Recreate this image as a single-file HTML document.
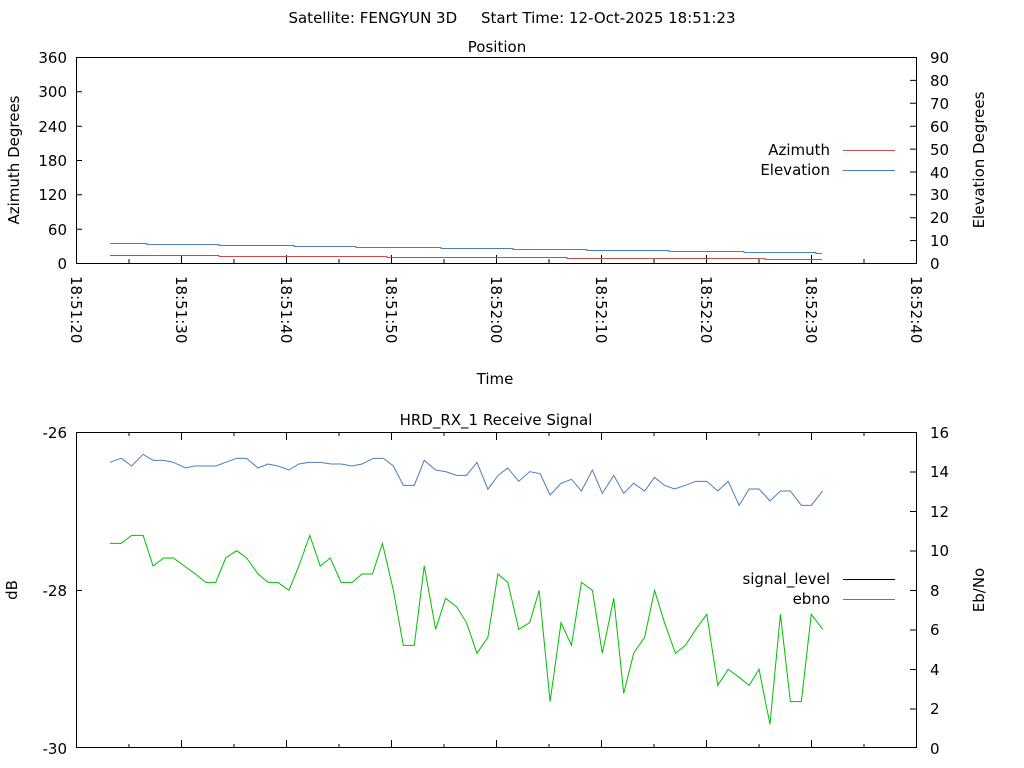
<!DOCTYPE html>
<html><head><meta charset="utf-8"><style>
html,body{margin:0;padding:0;background:#fff;}
svg{display:block;font-family:"DejaVu Sans","Liberation Sans",sans-serif;font-size:15px;}
</style></head><body>
<svg width="1024" height="768" viewBox="0 0 1024 768" xmlns="http://www.w3.org/2000/svg">
<rect width="1024" height="768" fill="#fff"/>
<text x="512" y="23" text-anchor="middle" style="white-space:pre">Satellite: FENGYUN 3D     Start Time: 12-Oct-2025 18:51:23</text>
<text x="497" y="52" text-anchor="middle">Position</text>
<rect x="76.5" y="57.5" width="840" height="206" fill="none" stroke="#000" stroke-width="1"/>
<g stroke="#000" stroke-width="1">
<path d="M76 57.5h6M76 91.8h6M76 126.2h6M76 160.5h6M76 194.8h6M76 229.2h6M916 57.5h-6M916 80.4h-6M916 103.3h-6M916 126.2h-6M916 149.1h-6M916 172h-6M916 194.8h-6M916 217.7h-6M916 240.6h-6"/>
<path d="M181.5 263v-8M286.5 263v-8M391.5 263v-8M496.5 263v-8M601.5 263v-8M706.5 263v-8M811.5 263v-8M129 263v-4M234 263v-4M339 263v-4M444 263v-4M549 263v-4M654 263v-4M759 263v-4M864 263v-4"/>
</g>
<g text-anchor="end">
<text x="67" y="63">360</text><text x="67" y="97">300</text><text x="67" y="132">240</text><text x="67" y="166">180</text><text x="67" y="200">120</text><text x="67" y="235">60</text><text x="67" y="269">0</text>
</g>
<g>
<text x="930" y="63">90</text><text x="930" y="86">80</text><text x="930" y="109">70</text><text x="930" y="132">60</text><text x="930" y="155">50</text><text x="930" y="178">40</text><text x="930" y="200">30</text><text x="930" y="223">20</text><text x="930" y="246">10</text><text x="930" y="269">0</text>
</g>
<text transform="translate(19,160) rotate(-90)" text-anchor="middle">Azimuth Degrees</text>
<text transform="translate(984,160) rotate(-90)" text-anchor="middle">Elevation Degrees</text>
<g>
<text transform="translate(71,276) rotate(90)">18:51:20</text>
<text transform="translate(176,276) rotate(90)">18:51:30</text>
<text transform="translate(281,276) rotate(90)">18:51:40</text>
<text transform="translate(386,276) rotate(90)">18:51:50</text>
<text transform="translate(491,276) rotate(90)">18:52:00</text>
<text transform="translate(596,276) rotate(90)">18:52:10</text>
<text transform="translate(701,276) rotate(90)">18:52:20</text>
<text transform="translate(806,276) rotate(90)">18:52:30</text>
<text transform="translate(911,276) rotate(90)">18:52:40</text>
</g>
<text x="495" y="384" text-anchor="middle">Time</text>
<text x="830" y="155" text-anchor="end">Azimuth</text>
<text x="830" y="175" text-anchor="end">Elevation</text>
<path d="M843 150.5h52" stroke="#c0504d"/>
<path d="M843 170.5h52" stroke="#4a7ebb"/>
<g fill="none" stroke-width="1">
<path stroke="#4a7ebb" d="M110 243.5H147V244.5H219V245.5H294V246.5H356V247.5H441V248.5H513V249.5H587V250.5H669V251.5H744V252.5H816V253.5H822"/>
<path stroke="#c0504d" d="M110 255.5H219V256.5H387V257.5H567V258.5H765V259.5H822"/>
</g>
<text x="496" y="425" text-anchor="middle">HRD_RX_1 Receive Signal</text>
<rect x="76.5" y="432.5" width="840" height="315" fill="none" stroke="#000"/>
<g stroke="#000" stroke-width="1">
<path d="M76 590.5h6M916 472h-6M916 511.5h-6M916 551h-6M916 590.5h-6M916 630h-6M916 669.5h-6M916 709h-6"/>
<path d="M181.5 748v-8M286.5 748v-8M391.5 748v-8M496.5 748v-8M601.5 748v-8M706.5 748v-8M811.5 748v-8M129 748v-4M234 748v-4M339 748v-4M444 748v-4M549 748v-4M654 748v-4M759 748v-4M864 748v-4"/>
<path d="M181.5 432v8M286.5 432v8M391.5 432v8M496.5 432v8M601.5 432v8M706.5 432v8M811.5 432v8M129 432v4M234 432v4M339 432v4M444 432v4M549 432v4M654 432v4M759 432v4M864 432v4"/>
</g>
<g text-anchor="end"><text x="67" y="438">-26</text><text x="67" y="596">-28</text><text x="67" y="754">-30</text></g>
<g>
<text x="930" y="438">16</text><text x="930" y="477">14</text><text x="930" y="517">12</text><text x="930" y="556">10</text><text x="930" y="596">8</text><text x="930" y="635">6</text><text x="930" y="675">4</text><text x="930" y="714">2</text><text x="930" y="754">0</text>
</g>
<text transform="translate(17,590) rotate(-90)" text-anchor="middle">dB</text>
<text transform="translate(984,590) rotate(-90)" text-anchor="middle">Eb/No</text>
<text x="830" y="584" text-anchor="end">signal_level</text>
<text x="830" y="604" text-anchor="end">ebno</text>
<path d="M843 579.5h52" stroke="#000"/>
<path d="M843 599.5h52" stroke="#4a7ebb"/>
<g transform="translate(70,430) scale(0.4975,0.33333)" fill="none">
<polyline vector-effect="non-scaling-stroke" stroke="#4a7ebb" stroke-width="1" points="80,97 103,85 124,108 147,73 167,91 188,91 208,97 232,114 250,108 293,108 313,97 335,85 355,85 378,114 398,102 418,108 440,120 460,102 480,97 503,97 525,102 545,102 567,108 587,102 610,85 630,85 650,108 670,166 692,166 712,91 735,120 755,125 777,136 797,136 818,97 840,178 860,137 880,114 902,154 924,125 945,131 965,195 987,160 1008,148 1028,183 1050,120 1070,190 1093,136 1113,190 1133,160 1155,183 1175,142 1195,166 1215,177 1237,166 1258,154 1280,154 1302,183 1323,154 1345,226 1365,177 1385,177 1407,213 1428,183 1448,183 1470,226 1490,226 1513,183"/>
<polyline vector-effect="non-scaling-stroke" stroke="#00c000" stroke-width="1" points="80,340 103,340 124,316 147,316 167,408 188,384 208,384 230,408 252,432 273,457 293,457 313,384 335,362 355,384 378,432 398,457 418,457 440,481 460,408 482,316 503,408 523,384 545,457 567,457 587,432 608,432 628,340 650,481 670,646 692,646 712,408 735,598 755,505 777,530 797,578 818,670 840,622 860,432 880,457 902,598 924,578 943,481 965,815 987,578 1008,646 1028,457 1050,481 1070,670 1093,505 1113,790 1133,670 1155,622 1175,481 1195,578 1217,670 1237,646 1258,598 1280,553 1302,766 1323,718 1345,742 1365,766 1385,718 1407,883 1428,553 1448,815 1470,815 1490,553 1513,598"/>
</g>
</svg>
</body></html>
